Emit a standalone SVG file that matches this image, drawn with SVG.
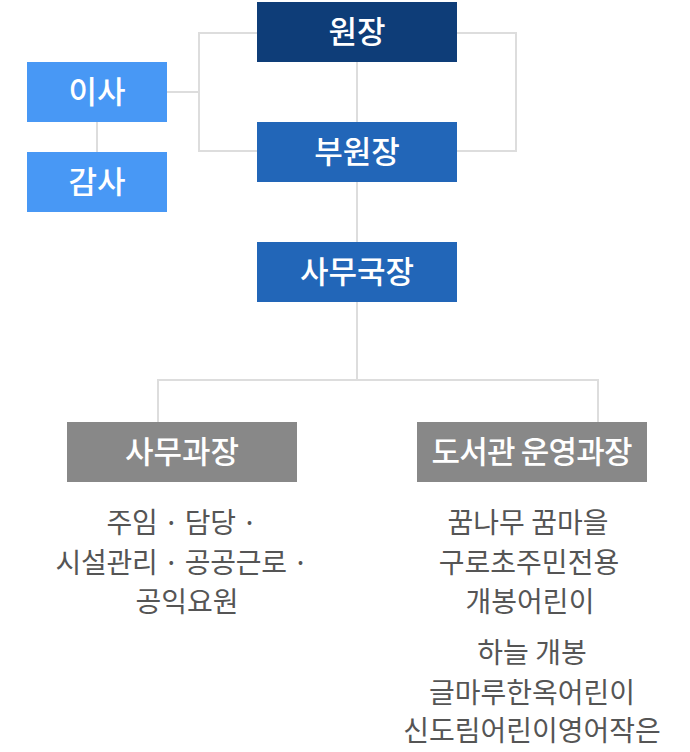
<svg xmlns="http://www.w3.org/2000/svg" width="690" height="752" viewBox="0 0 690 752">
<style>
.t{font-family:"Noto Sans CJK KR","Noto Sans",sans-serif;}
.h{font-size:31px;font-weight:500;fill:#ffffff;text-anchor:middle;}
.b{font-size:28px;fill:#555555;text-anchor:middle;}
.ln{fill:none;stroke:#dddddd;stroke-width:2;}
</style>
<rect width="690" height="752" fill="#ffffff"/>
<g id="connectors">
<polyline class="ln" points="167,92 199,92"/>
<polyline class="ln" points="257,33 199,33 199,151 257,151"/>
<polyline class="ln" points="457,33 516,33 516,151 457,151"/>
<line class="ln" x1="97" y1="122" x2="97" y2="152"/>
<line class="ln" x1="357" y1="62" x2="357" y2="122"/>
<line class="ln" x1="357" y1="182" x2="357" y2="242"/>
<line class="ln" x1="357" y1="302" x2="357" y2="380"/>
<polyline class="ln" points="158,422 158,380 598,380 598,422"/>
</g>
<g id="n-wonjang"><rect x="257" y="2" width="200" height="60" fill="#0e3d78"/><text class="t h" x="357" y="43">원장</text></g>
<g id="n-buwonjang"><rect x="257" y="122" width="200" height="60" fill="#2266b8"/><text class="t h" x="357" y="163">부원장</text></g>
<g id="n-samugukjang"><rect x="257" y="242" width="200" height="60" fill="#2266b8"/><text class="t h" x="357" y="283">사무국장</text></g>
<g id="n-isa"><rect x="27" y="62" width="140" height="60" fill="#4898f5"/><text class="t h" x="97" y="103">이사</text></g>
<g id="n-gamsa"><rect x="27" y="152" width="140" height="60" fill="#4898f5"/><text class="t h" x="97" y="193">감사</text></g>
<g id="n-samugwajang"><rect x="67" y="422" width="230" height="60" fill="#888888"/><text class="t h" x="182" y="463">사무과장</text>
<text class="t b" x="182" y="533" textLength="151" lengthAdjust="spacing">주임 · 담당 ·</text>
<text class="t b" x="182" y="573" textLength="253" lengthAdjust="spacing">시설관리 · 공공근로 ·</text>
<text class="t b" x="187" y="612">공익요원</text>
</g>
<g id="n-library"><rect x="417" y="422" width="230" height="60" fill="#888888"/><text class="t h" x="532" y="463" textLength="201" lengthAdjust="spacing">도서관 운영과장</text>
<text class="t b" x="528" y="533">꿈나무 꿈마을</text>
<text class="t b" x="529" y="573">구로초주민전용</text>
<text class="t b" x="530" y="612">개봉어린이</text>
<text class="t b" x="532" y="663">하늘 개봉</text>
<text class="t b" x="532" y="703">글마루한옥어린이</text>
<text class="t b" x="532" y="741">신도림어린이영어작은</text>
</g>
</svg>
